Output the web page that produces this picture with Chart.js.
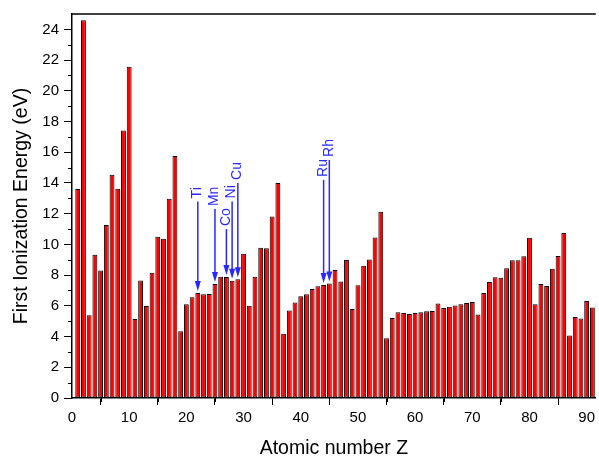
<!DOCTYPE html>
<html>
<head>
<meta charset="utf-8">
<script src="https://cdn.jsdelivr.net/npm/chart.js@4.4.1/dist/chart.umd.min.js"></script>
<style>
    html, body { margin: 0; padding: 0; background: #fff; }
    #box { width: 599px; height: 461px; }
</style>
</head>
<body>
<div id="box"><canvas id="myChart"></canvas></div>
<script>
// atomic numbers and first ionization energies (eV)
const numZ = [];
for (let z = 1; z <= 92; z++) numZ.push(z);

const energie = [
    13.60, 24.59, 5.39, 9.32, 8.30, 11.26, 14.53, 13.62, 17.42, 21.56,
    5.14, 7.65, 5.99, 8.15, 10.49, 10.36, 12.97, 15.76, 4.34, 6.11,
    6.56, 6.83, 6.75, 6.77, 7.43, 7.90, 7.88, 7.64, 7.73, 9.39,
    6.00, 7.90, 9.79, 9.75, 11.81, 14.00, 4.18, 5.69, 6.22, 6.63,
    6.76, 7.09, 7.28, 7.36, 7.46, 8.34, 7.58, 8.99, 5.79, 7.34,
    8.61, 9.01, 10.45, 12.13, 3.89, 5.21, 5.58, 5.54, 5.47, 5.53,
    5.58, 5.64, 5.67, 6.15, 5.86, 5.94, 6.02, 6.11, 6.18, 6.25,
    5.43, 6.83, 7.55, 7.86, 7.83, 8.44, 8.97, 8.96, 9.23, 10.44,
    6.11, 7.42, 7.29, 8.41, 9.25, 10.75, 4.07, 5.28, 5.17, 6.31,
    5.89, 6.19
];

// marked elements
const repereNoms = ['Ti', 'Mn', 'Co', 'Ni', 'Cu', 'Ru', 'Rh'];
const repereZ = [22, 25, 27, 28, 29, 44, 45];
// energy where each arrow starts (just under its label)
const repereDepart = [12.8, 12.3, 11.0, 12.8, 14.0, 14.2, 15.5];

const bleu = 'rgb(40, 40, 255)';

const reperes = {
    id: 'reperes',
    afterDatasetsDraw(chart) {
        const c = chart.ctx;
        const xs = chart.scales.x;
        const ys = chart.scales.y;
        c.save();
        c.strokeStyle = bleu;
        c.fillStyle = bleu;
        c.lineWidth = 1.5;
        repereNoms.forEach((nom, i) => {
            const z = repereZ[i];
            const x = xs.getPixelForValue(z);
            const yDebut = ys.getPixelForValue(repereDepart[i]);
            const yFin = ys.getPixelForValue(energie[z - 1]) - 2;
            c.beginPath();
            c.moveTo(x, yDebut);
            c.lineTo(x, yFin - 8);
            c.stroke();
            // arrow head
            c.beginPath();
            c.moveTo(x - 3, yFin - 10);
            c.lineTo(x + 3, yFin - 10);
            c.lineTo(x, yFin);
            c.closePath();
            c.fill();
            // label, rotated
            c.save();
            c.translate(x - 0.5, yDebut - 3);
            c.rotate(-Math.PI / 2);
            c.font = '14px "Liberation Sans", Arial, sans-serif';
            c.textAlign = 'left';
            c.textBaseline = 'middle';
            c.fillText(nom, 0, 0);
            c.restore();
        });
        c.restore();
    },
    afterDraw(chart) {
        const c = chart.ctx;
        const a = chart.chartArea;
        const xs = chart.scales.x;
        const ys = chart.scales.y;
        c.save();
        c.strokeStyle = '#000';
        c.lineWidth = 1.5;
        // top frame
        c.beginPath();
        c.moveTo(a.left, a.top);
        c.lineTo(a.right, a.top);
        c.stroke();
        // minor ticks
        c.lineWidth = 1;
        for (let v = 1; v < 25; v += 2) {
            const y = Math.round(ys.getPixelForValue(v)) + 0.5;
            c.beginPath();
            c.moveTo(a.left - 4, y);
            c.lineTo(a.left, y);
            c.stroke();
        }
        for (let v = 5; v < 92; v += 10) {
            const x = Math.round(xs.getPixelForValue(v)) + 0.5;
            c.beginPath();
            c.moveTo(x, a.bottom);
            c.lineTo(x, a.bottom + 4);
            c.stroke();
        }
        c.restore();
    }
};

function drawGraphique() {
    const ctx = document.getElementById('myChart');

    const data = {
        datasets: [{
            data: numZ.map((z, i) => ({ x: z, y: energie[i] })),
            backgroundColor: '#ff0000',
            borderColor: '#000',
            borderWidth: 1,
            borderSkipped: false,
            barPercentage: 0.85,
            categoryPercentage: 1,
        }]
    };

    const police = '"Liberation Sans", Arial, sans-serif';

    new Chart(ctx, {
        type: 'bar',
        data: data,
        options: {
            responsive: true,
            maintainAspectRatio: false,
            animation: false,
            layout: { padding: { top: 5, right: 0, left: 0, bottom: 0 } },
            plugins: {
                legend: { display: false },
                tooltip: { enabled: false }
            },
            scales: {
                x: {
                    type: 'linear',
                    min: 0,
                    max: 91.6,
                    offset: false,
                    afterFit(s) { s.height = 63; },
                    border: { display: true, color: '#000', width: 1.5 },
                    grid: { drawOnChartArea: false, drawTicks: true, tickLength: 7, color: '#000' },
                    ticks: {
                        stepSize: 10,
                        includeBounds: false,
                        autoSkip: false,
                        maxRotation: 0,
                        color: '#000',
                        padding: 4,
                        font: { family: police, size: 15 }
                    },
                    title: {
                        display: true,
                        text: 'Atomic number Z',
                        color: '#000',
                        padding: { top: 0, bottom: 1 },
                        font: { family: police, size: 19.5 }
                    }
                },
                y: {
                    min: 0,
                    max: 25,
                    afterFit(s) { s.width = 72; },
                    border: { display: true, color: '#000', width: 1.5 },
                    grid: { drawOnChartArea: false, drawTicks: true, tickLength: 8, color: '#000' },
                    ticks: {
                        stepSize: 2,
                        includeBounds: false,
                        color: '#000',
                        padding: 5,
                        font: { family: police, size: 15 }
                    },
                    title: {
                        display: true,
                        text: 'First Ionization Energy (eV)',
                        color: '#000',
                        padding: { top: 10, bottom: 0 },
                        font: { family: police, size: 19.5 }
                    }
                }
            }
        },
        plugins: [reperes]
    });
}

drawGraphique();
</script>
</body>
</html>
